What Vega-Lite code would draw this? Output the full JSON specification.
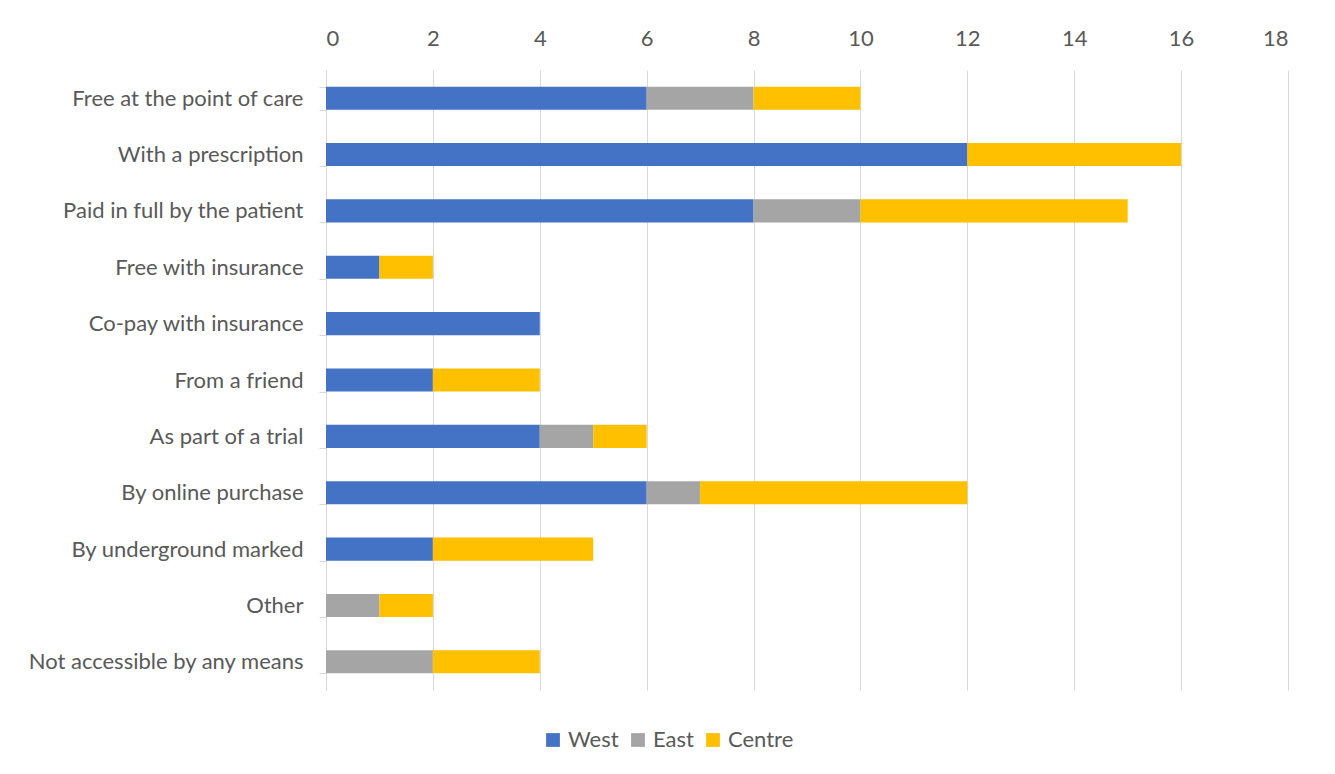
{
  "$schema": "https://vega.github.io/schema/vega-lite/v6.json",
  "autosize": {"type": "none"},
  "padding": {"left": 326, "top": 70, "right": 47, "bottom": 84},
  "width": 962,
  "height": 620,
  "background": "white",
  "config": {"view": {"stroke": null}, "font": "Lato"},
  "data": {"values": [
    {"cat": "Free at the point of care", "region": "West", "ord": 1, "n": 6},
    {"cat": "Free at the point of care", "region": "East", "ord": 2, "n": 2},
    {"cat": "Free at the point of care", "region": "Centre", "ord": 3, "n": 2},
    {"cat": "With a prescription", "region": "West", "ord": 1, "n": 12},
    {"cat": "With a prescription", "region": "East", "ord": 2, "n": 0},
    {"cat": "With a prescription", "region": "Centre", "ord": 3, "n": 4},
    {"cat": "Paid in full by the patient", "region": "West", "ord": 1, "n": 8},
    {"cat": "Paid in full by the patient", "region": "East", "ord": 2, "n": 2},
    {"cat": "Paid in full by the patient", "region": "Centre", "ord": 3, "n": 5},
    {"cat": "Free with insurance", "region": "West", "ord": 1, "n": 1},
    {"cat": "Free with insurance", "region": "East", "ord": 2, "n": 0},
    {"cat": "Free with insurance", "region": "Centre", "ord": 3, "n": 1},
    {"cat": "Co-pay with insurance", "region": "West", "ord": 1, "n": 4},
    {"cat": "Co-pay with insurance", "region": "East", "ord": 2, "n": 0},
    {"cat": "Co-pay with insurance", "region": "Centre", "ord": 3, "n": 0},
    {"cat": "From a friend", "region": "West", "ord": 1, "n": 2},
    {"cat": "From a friend", "region": "East", "ord": 2, "n": 0},
    {"cat": "From a friend", "region": "Centre", "ord": 3, "n": 2},
    {"cat": "As part of a trial", "region": "West", "ord": 1, "n": 4},
    {"cat": "As part of a trial", "region": "East", "ord": 2, "n": 1},
    {"cat": "As part of a trial", "region": "Centre", "ord": 3, "n": 1},
    {"cat": "By online purchase", "region": "West", "ord": 1, "n": 6},
    {"cat": "By online purchase", "region": "East", "ord": 2, "n": 1},
    {"cat": "By online purchase", "region": "Centre", "ord": 3, "n": 5},
    {"cat": "By underground marked", "region": "West", "ord": 1, "n": 2},
    {"cat": "By underground marked", "region": "East", "ord": 2, "n": 0},
    {"cat": "By underground marked", "region": "Centre", "ord": 3, "n": 3},
    {"cat": "Other", "region": "West", "ord": 1, "n": 0},
    {"cat": "Other", "region": "East", "ord": 2, "n": 1},
    {"cat": "Other", "region": "Centre", "ord": 3, "n": 1},
    {"cat": "Not accessible by any means", "region": "West", "ord": 1, "n": 0},
    {"cat": "Not accessible by any means", "region": "East", "ord": 2, "n": 2},
    {"cat": "Not accessible by any means", "region": "Centre", "ord": 3, "n": 2}
  ]},
  "mark": {"type": "bar"},
  "encoding": {
    "y": {
      "field": "cat", "type": "nominal", "sort": null, "title": null,
      "scale": {"paddingInner": 0.59, "paddingOuter": 0.295},
      "axis": {
        "domainColor": "#D9D9D9", "tickColor": "#D9D9D9", "tickSize": 7,
        "tickBand": "extent", "labelFontSize": 22, "labelColor": "#595959",
        "labelPadding": 16, "labelLimit": 400
      }
    },
    "x": {
      "field": "n", "type": "quantitative", "stack": "zero", "title": null,
      "scale": {"domain": [0, 18], "nice": false},
      "axis": {
        "orient": "top", "values": [0, 2, 4, 6, 8, 10, 12, 14, 16, 18],
        "domain": false, "ticks": false, "gridColor": "#D9D9D9",
        "labelFontSize": 22, "labelColor": "#595959", "labelPadding": 20
      }
    },
    "color": {
      "field": "region", "type": "nominal", "title": null,
      "scale": {"domain": ["West", "East", "Centre"], "range": ["#4472C4", "#A5A5A5", "#FFC000"]},
      "legend": {
        "orient": "none", "direction": "horizontal", "legendX": 216, "legendY": 659,
        "symbolType": "square", "symbolSize": 190, "symbolStrokeWidth": 0,
        "labelFontSize": 22, "labelColor": "#595959", "columnPadding": 8, "labelOffset": 4
      }
    },
    "order": {"field": "ord", "type": "quantitative"}
  }
}
